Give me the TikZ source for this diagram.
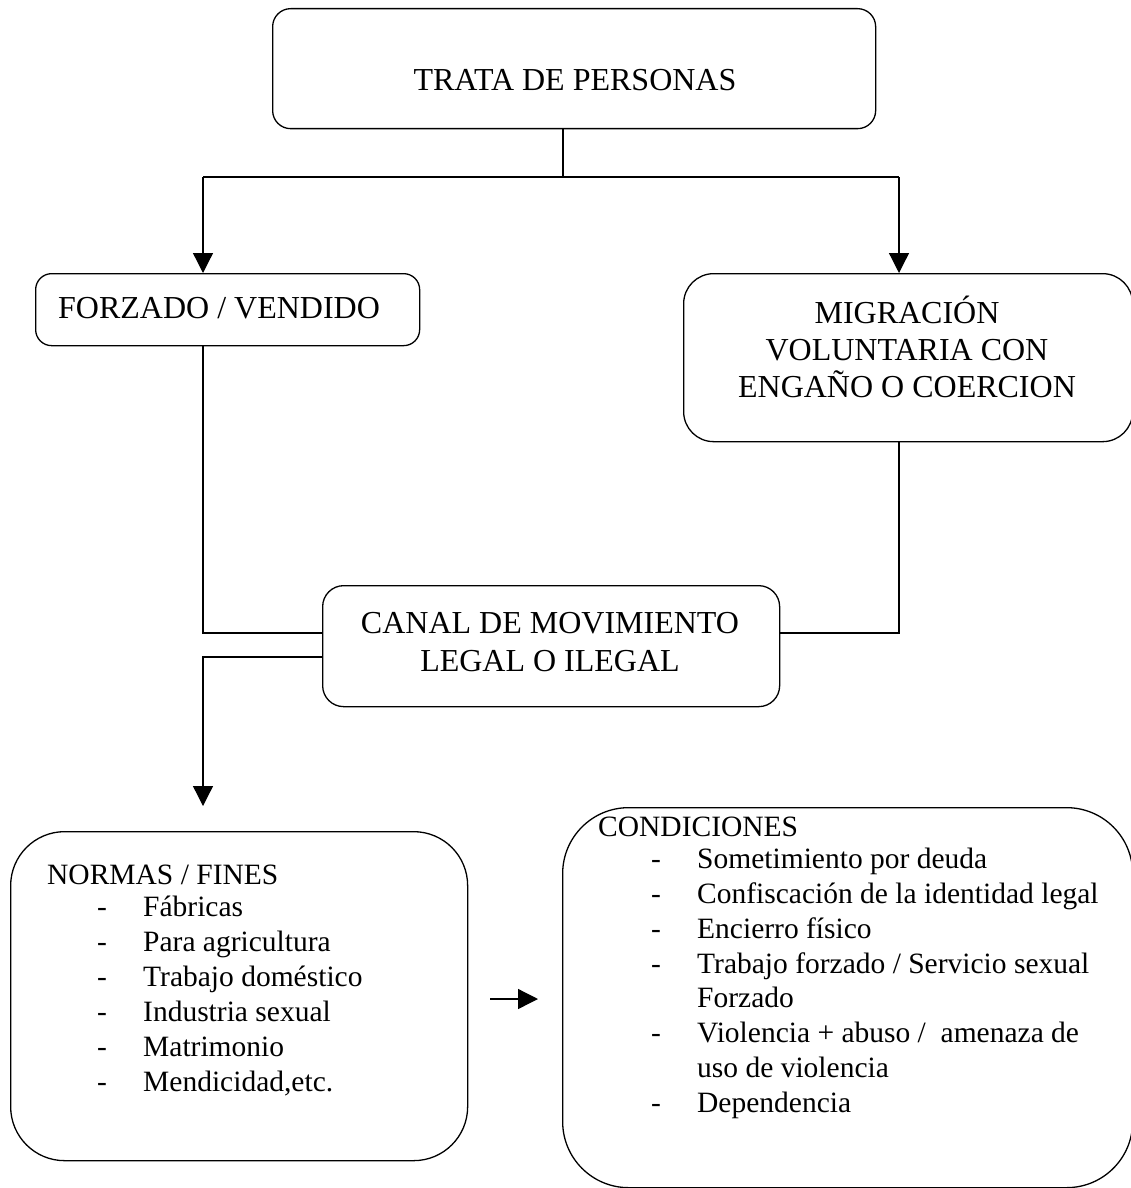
\documentclass[tikz,border=0pt]{standalone}
\usepackage{fontspec}
\setmainfont{Liberation Serif}
\usetikzlibrary{arrows.meta}
\tikzset{
  box/.style={draw, line width=1.3pt, rounded corners=#1, inner sep=0pt, anchor=north west},
  conn/.style={line width=1.3pt},
  arr/.style={line width=1.3pt, -{Triangle[width=20pt,length=20pt]}},
  big/.style={font=\fontsize{32}{37.5}\selectfont, inner sep=0pt},
  small/.style={font=\fontsize{29.5}{35}\selectfont, inner sep=0pt},
}
\newcommand{\itm}[1]{\makebox[46pt][l]{-}#1}
\begin{document}
\begin{tikzpicture}[x=1pt,y=-1pt]
\useasboundingbox (0,0) rectangle (1131,1188);
\clip (0,0) rectangle (1131,1188);

% boxes
\node[box=18pt, minimum width=603pt, minimum height=120pt] (tp) at (272,8) {};
\node[box=16pt, minimum width=384pt, minimum height=72pt] (fv) at (35,273) {};
\node[box=30pt, minimum width=449pt, minimum height=168pt] (mig) at (683,273) {};
\node[box=21pt, minimum width=457pt, minimum height=121pt] (canal) at (322,585) {};
\node[box=54pt, minimum width=457pt, minimum height=329pt] (normas) at (10,831) {};
\node[box=66pt, minimum width=570pt, minimum height=380pt] (cond) at (562,807) {};

% texts
\node[big, anchor=base] (tpT) at (575,91) {TRATA DE PERSONAS};
\node[big, anchor=base west] (fvT) at (58,318) {FORZADO / VENDIDO};
\node[big, anchor=base] (migT1) at (907,323) {MIGRACIÓN};
\node[big, anchor=base] (migT2) at (907,360) {VOLUNTARIA CON};
\node[big, anchor=base] (migT3) at (907,397) {ENGAÑO O COERCION};
\node[big, anchor=base] (canalT1) at (550,633) {CANAL DE MOVIMIENTO};
\node[big, anchor=base] (canalT2) at (550,671) {LEGAL O ILEGAL};

\node[small, anchor=base west] (nT) at (47,884) {NORMAS / FINES};
\node[small, anchor=base west] (n1) at (97,916) {\itm{Fábricas}};
\node[small, anchor=base west] (n2) at (97,951) {\itm{Para agricultura}};
\node[small, anchor=base west] (n3) at (97,986) {\itm{Trabajo doméstico}};
\node[small, anchor=base west] (n4) at (97,1021) {\itm{Industria sexual}};
\node[small, anchor=base west] (n5) at (97,1056) {\itm{Matrimonio}};
\node[small, anchor=base west] (n6) at (97,1091) {\itm{Mendicidad,etc.}};

\node[small, anchor=base west] (cT) at (598,836) {CONDICIONES};
\node[small, anchor=base west] (c1) at (651,868) {\itm{Sometimiento por deuda}};
\node[small, anchor=base west] (c2) at (651,903) {\itm{Confiscación de la identidad legal}};
\node[small, anchor=base west] (c3) at (651,938) {\itm{Encierro físico}};
\node[small, anchor=base west] (c4) at (651,973) {\itm{Trabajo forzado / Servicio sexual}};
\node[small, anchor=base west] (c4b) at (697,1007) {Forzado};
\node[small, anchor=base west] (c5) at (651,1042) {\itm{Violencia + abuso /\ \ amenaza de}};
\node[small, anchor=base west] (c5b) at (697,1077) {uso de violencia};
\node[small, anchor=base west] (c6) at (651,1112) {\itm{Dependencia}};

% connectors
\coordinate (j) at (563,177);
\coordinate (jl) at (203,177);
\coordinate (jr) at (899,177);
\coordinate (cl) at (203,633);
\coordinate (cr) at (899,633);
\coordinate (dl) at (203,657);
\coordinate (dt) at (203,806);
\coordinate (sa1) at (490,999);
\coordinate (sa2) at (538,999);

\draw[conn] (tp.south -| j) -- (j);
\draw[conn] (jl) -- (jr);
\draw[arr] (jl) -- (fv.north -| jl);
\draw[arr] (jr) -- (mig.north -| jr);
\draw[conn] (fv.south -| jl) -- (cl) -- (canal.west |- cl);
\draw[conn] (mig.south -| jr) -- (cr) -- (canal.east |- cr);
\draw[arr] (canal.west |- dl) -- (dl) -- (dt);
\draw[arr] (sa1) -- (sa2);
\end{tikzpicture}
\end{document}
